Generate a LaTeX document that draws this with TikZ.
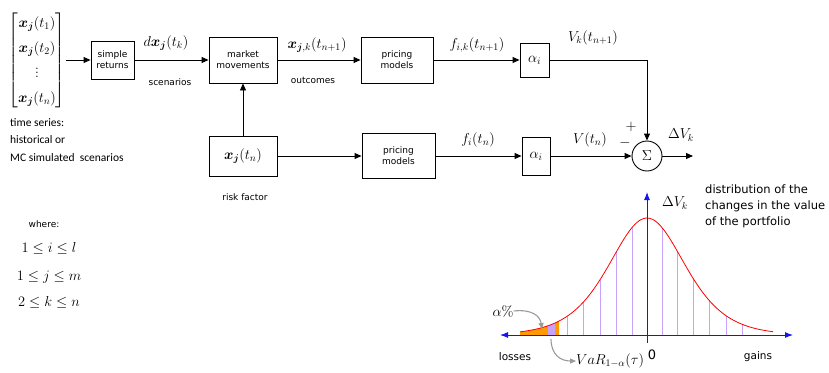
\documentclass[tikz,border=0pt]{standalone}
\usepackage{fontspec}
\usepackage{amsmath,bm}
\usetikzlibrary{arrows.meta,calc}
\newfontfamily\dv{DejaVu Sans}
\newfontfamily\cl{Carlito}
\definecolor{lav}{HTML}{C8A2F8}
\definecolor{orng}{HTML}{FF9A00}
\definecolor{axc}{HTML}{1414F0}
\definecolor{gry}{HTML}{9A9A9A}
\newcommand{\xj}{\bm{x}_{\bm{j}}}
\begin{document}
\begin{tikzpicture}[x=1pt,y=-1pt,
 box/.style={draw, line width=0.9pt, align=center, inner sep=0pt, font=\dv\fontsize{9}{11}\selectfont},
 arr/.style={line width=0.9pt, -{Triangle[length=7pt,width=6pt]}},
 lbl/.style={font=\fontsize{14.5}{17}\selectfont, inner sep=0pt},
 small/.style={font=\dv\fontsize{9}{11}\selectfont, inner sep=0pt},
 gtxt/.style={font=\dv\fontsize{10.5}{16}\selectfont, inner sep=0pt},
 garr/.style={gry, line width=1.1pt, -{Triangle[length=6pt,width=5pt]}},
 declare function={h(\t)=117/(cosh((\t-647)/51))^2;}
]
\useasboundingbox (0,0) rectangle (829,372);

% ---- top row
\node[inner sep=0pt] (mat) at (37,60) {\fontsize{14}{16}\selectfont\renewcommand\arraystretch{1.55}$\left[\begin{matrix}\xj(t_1)\\ \xj(t_2)\\ \vdots\\ \xj(t_n)\end{matrix}\right]$};
\node[box, minimum width=43pt, minimum height=38pt] (sr) at (112.5,60) {simple\\returns};
\node[box, minimum width=68pt, minimum height=46pt] (mm) at (243,60) {market\\movements};
\node[box, minimum width=72pt, minimum height=46pt] (pm1) at (397,60) {pricing\\models};
\node[box, minimum width=29pt, minimum height=34pt, font=\fontsize{14.5}{17}\selectfont] (a1) at (534.5,60) {$\alpha_i$};

% ---- bottom row
\node[box, minimum width=68pt, minimum height=40pt, font=\fontsize{14.5}{17}\selectfont] (xb) at (243,156) {$\xj(t_n)$};
\node[box, minimum width=73pt, minimum height=45pt] (pm2) at (398.5,156) {pricing\\models};
\node[box, minimum width=28pt, minimum height=38pt, font=\fontsize{14.5}{17}\selectfont] (a2) at (536,156) {$\alpha_i$};
\node[draw, circle, line width=0.9pt, minimum size=30pt, inner sep=0pt, font=\fontsize{14.5}{17}\selectfont] (sig) at (647,156) {$\Sigma$};
\coordinate (out) at (693,156);

% ---- connectors
\draw[arr] (mat.east |- sr.west) -- (sr.west);
\draw[arr] (sr.east) -- (mm.west);
\draw[arr] (mm.east) -- (pm1.west);
\draw[arr] (pm1.east) -- (a1.west);
\draw[arr] (a1.east) -| (sig.north);
\draw[arr] (xb.north) -- (mm.south);
\draw[arr] (xb.east) -- (pm2.west);
\draw[arr] (pm2.east) -- (a2.west);
\draw[arr] (a2.east) -- (sig.west);
\draw[arr] (sig.east) -- (out);

% ---- labels
\node[lbl] (l1) at (166,43) {$d\xj(t_k)$};
\node[small] (l2) at (170,82) {scenarios};
\node[lbl] (l3) at (317,45) {$\bm{x}_{\bm{j},k}(t_{n+1})$};
\node[small] (l4) at (313,80) {outcomes};
\node[lbl] (l5) at (477,45) {$f_{i,k}(t_{n+1})$};
\node[lbl] (l6) at (593,38) {$V_k(t_{n+1})$};
\node[lbl] (l7) at (478,140) {$f_i(t_n)$};
\node[lbl] (l8) at (590,140) {$V(t_n)$};
\node[lbl] (l9) at (681,135) {$\Delta V_k$};
\node[lbl] (pl) at (631,127) {$+$};
\node[lbl] (mi) at (625,143) {$-$};
\node[small] (rf) at (245,197) {risk factor};
\node[font=\cl\fontsize{11.5}{17.5}\selectfont, align=left, anchor=north west, inner sep=0pt] (ts) at (10,118) {time series:\\historical or\\MC simulated\ \ scenarios};

\node[small] (wh) at (44,224) {where:};
\node[lbl] (q1) at (49,248) {$1\le i\le l$};
\node[lbl] (q2) at (49,277) {$1\le j\le m$};
\node[lbl] (q3) at (49,302) {$2\le k\le n$};

% ---- distribution
\fill[orng] (520,335) -- plot[domain=520:559,samples=30] (\x,{335-h(\x)}) -- (559,335) -- cycle;
\fill[lav] (548,335) -- plot[domain=548:555,samples=8] (\x,{335-h(\x)}) -- (555,335) -- cycle;
\foreach \p in {567,583.5,600,616.5,632,662,677,693,709,726,742}
  \draw[lav, line width=1pt] (\p,335) -- (\p,{335-h(\p)});
\draw[red, line width=0.8pt] plot[domain=520:773,samples=120,smooth] (\x,{335-h(\x)});
\draw[axc, line width=1pt, {Latex[length=8pt,width=6pt]}-{Latex[length=8pt,width=6pt]}] (500,335) -- (793,335);
\draw[axc, line width=1pt, -{Latex[length=8pt,width=6pt]}] (647,343) -- (647,192);

\node[lbl] (dv) at (675,203) {$\Delta V_k$};
\node[font=\dv\fontsize{11.5}{16}\selectfont, inner sep=0pt, align=left, anchor=north west] (dist) at (705,185) {distribution of the\\changes in the value\\of the portfolio};
\node[font=\dv\fontsize{13}{15}\selectfont, inner sep=0pt] (zero) at (652,355) {0};
\node[gtxt] (los) at (515,357) {losses};
\node[gtxt] (gai) at (758,357) {gains};
\node[lbl] (alp) at (503,311) {$\alpha\%$};
\node[lbl, anchor=west] (var) at (576,361) {$VaR_{1-\alpha}(\tau)$};
\coordinate (c1) at (542,329);
\coordinate (c2) at (551,339);
\draw[garr] (alp.east) .. controls (532,309) and (540,316) .. (c1);
\draw[garr] (c2) .. controls (551,354) and (560,361) .. (var.west);
\end{tikzpicture}
\end{document}
